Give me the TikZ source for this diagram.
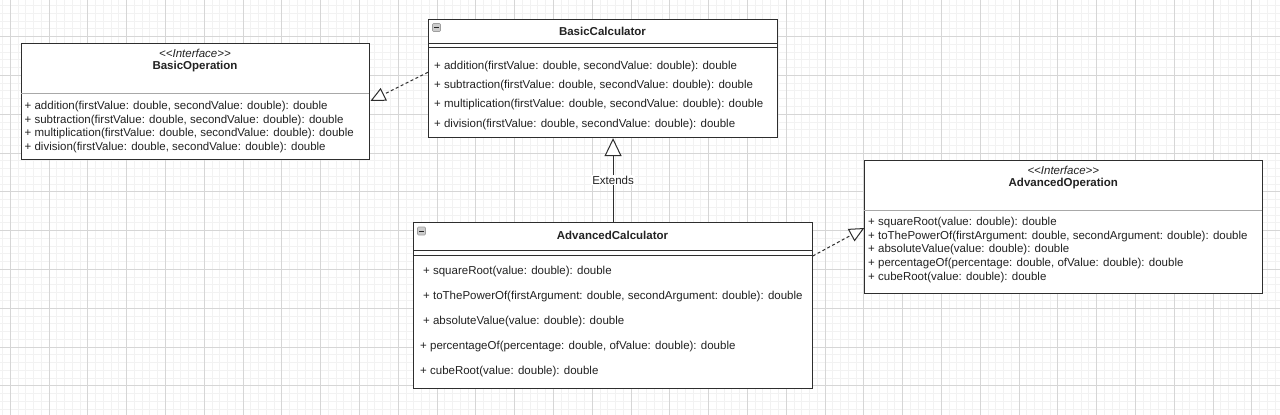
\documentclass[tikz,border=0pt]{standalone}
\usepackage{fontspec}
\setmainfont{Liberation Sans}
\usetikzlibrary{arrows.meta}
\definecolor{ink}{HTML}{222222}
\definecolor{edge}{HTML}{2E2E2E}
\definecolor{sep}{HTML}{A8A8A8}
\definecolor{gmin}{HTML}{F2F2F2}
\definecolor{gmaj}{HTML}{D6D6D6}
\begin{document}
\begin{tikzpicture}[x=1pt,y=-1pt,
  umlbox/.style={draw=edge, line width=1.1pt, fill=white, inner sep=0pt, anchor=north west},
  meth/.style={anchor=west, inner sep=0pt, text=ink, font=\fontsize{11.5}{13}\selectfont},
  classname/.style={inner sep=0pt, text=ink, font=\fontsize{11.5}{13}\selectfont\bfseries},
  stereo/.style={inner sep=0pt, text=ink, font=\fontsize{11.5}{13}\selectfont\itshape},
  conn/.style={draw=edge, line width=1pt},
  realize/.style={conn, dash pattern=on 3pt off 2.5pt, -{Triangle[length=15pt,width=14pt,fill=white,line width=1pt]}},
  inherit/.style={conn, -{Triangle[length=18pt,width=17pt,fill=white,line width=1pt]}},
  icon/.style={draw=gray!75, fill=gray!40, rounded corners=1pt, line width=0.6pt}
]
\useasboundingbox (0,0) rectangle (1280,415);
\fill[white] (0,0) rectangle (1280,415);
% grid
\foreach \j in {-1,...,163} \draw[gmin, line width=0.5pt] ({10+7.76*\j},0) -- ({10+7.76*\j},415);
\foreach \j in {-4,...,48} \draw[gmin, line width=0.5pt] (0,{36.4+7.76*\j}) -- (1280,{36.4+7.76*\j});
\foreach \k in {0,...,32} \draw[gmaj, line width=0.6pt] ({10+38.8*\k},0) -- ({10+38.8*\k},415);
\foreach \k in {0,...,9} \draw[gmaj, line width=0.6pt] (0,{36.4+38.8*\k}) -- (1280,{36.4+38.8*\k});

% BasicOperation
\node[umlbox, minimum width=348.6pt, minimum height=116pt] (bo) at (20.7,43.3) {};
\draw[sep, line width=0.8pt] (20.7,93.3) -- (369.3,93.3);
\node[stereo] (bost) at (195,53.5) {\textless\kern0pt\textless Interface\textgreater\kern0pt\textgreater};
\node[classname] (boname) at (195,66.7) {BasicOperation};
\node[meth] (bom1) at (24.5,107) {+ addition(firstValue: double, secondValue: double): double};
\node[meth] (bom2) at (24.5,120.7) {+ subtraction(firstValue: double, secondValue: double): double};
\node[meth] (bom3) at (24.5,134) {+ multiplication(firstValue: double, secondValue: double): double};
\node[meth] (bom4) at (24.5,147.3) {+ division(firstValue: double, secondValue: double): double};

% BasicCalculator
\node[umlbox, minimum width=349pt, minimum height=118.3pt] (bc) at (428,18.7) {};
\draw[edge, line width=1pt] (428,43.5) -- (777,43.5);
\draw[edge, line width=1pt] (428,47.7) -- (777,47.7);
\draw[icon] (432.5,23.5) rectangle (440.5,31.5);
\draw[ink, line width=0.9pt] (434.3,27.5) -- (438.7,27.5);
\node[classname] (bcname) at (602.5,31.5) {BasicCalculator};
\node[meth] (bcm1) at (434,66.7) {+ addition(firstValue: double, secondValue: double): double};
\node[meth] (bcm2) at (434,86) {+ subtraction(firstValue: double, secondValue: double): double};
\node[meth] (bcm3) at (434,105) {+ multiplication(firstValue: double, secondValue: double): double};
\node[meth] (bcm4) at (434,124.3) {+ division(firstValue: double, secondValue: double): double};

% AdvancedCalculator
\node[umlbox, minimum width=398.4pt, minimum height=165.4pt] (ac) at (413.3,222.3) {};
\draw[edge, line width=1pt] (413.3,250.7) -- (811.7,250.7);
\draw[edge, line width=1pt] (413.3,255) -- (811.7,255);
\draw[icon] (417.5,227) rectangle (425.5,235);
\draw[ink, line width=0.9pt] (419.3,231) -- (423.7,231);
\node[classname] (acname) at (612.5,235) {AdvancedCalculator};
\node[meth] (acm1) at (423,271.7) {+ squareRoot(value: double): double};
\node[meth] (acm2) at (423,296.7) {+ toThePowerOf(firstArgument: double, secondArgument: double): double};
\node[meth] (acm3) at (423,322) {+ absoluteValue(value: double): double};
\node[meth] (acm4) at (420,347) {+ percentageOf(percentage: double, ofValue: double): double};
\node[meth] (acm5) at (420,372) {+ cubeRoot(value: double): double};

% AdvancedOperation
\node[umlbox, minimum width=398pt, minimum height=133.3pt] (ao) at (864.3,160) {};
\draw[sep, line width=0.8pt] (864.3,210) -- (1262.3,210);
\node[stereo] (aost) at (1063.3,170.7) {\textless\kern0pt\textless Interface\textgreater\kern0pt\textgreater};
\node[classname] (aoname) at (1063.3,183.3) {AdvancedOperation};
\node[meth] (aom1) at (868,222.7) {+ squareRoot(value: double): double};
\node[meth] (aom2) at (868,236.7) {+ toThePowerOf(firstArgument: double, secondArgument: double): double};
\node[meth] (aom3) at (868,250) {+ absoluteValue(value: double): double};
\node[meth] (aom4) at (868,264) {+ percentageOf(percentage: double, ofValue: double): double};
\node[meth] (aom5) at (868,277.7) {+ cubeRoot(value: double): double};

% connectors
\draw[realize] ([yshift=-53.6pt]bc.north west) -- ([yshift=-57.7pt]bo.north east);
\draw[realize] ([yshift=-33.7pt]ac.north east) -- ([yshift=-68pt]ao.north west);
\draw[inherit] (ac.north) -- (ac.north |- bc.south)
  node[pos=0.5, fill=white, inner sep=1pt, text=ink, font=\fontsize{11.5}{13}\selectfont] (ext) {Extends};
\end{tikzpicture}
\end{document}
